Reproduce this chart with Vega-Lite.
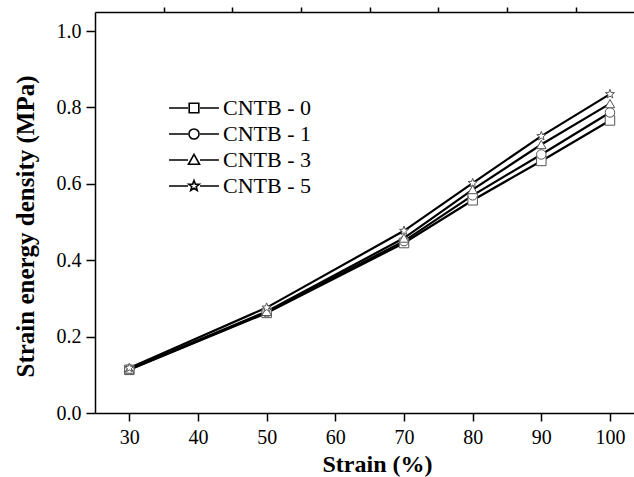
{
  "$schema": "https://vega.github.io/schema/vega-lite/v6.json",
  "width": 539,
  "height": 401,
  "autosize": {"type": "none"},
  "padding": {"left": 95, "top": 12, "right": 0, "bottom": 64},
  "background": "white",
  "config": {
    "view": {"stroke": null},
    "font": "Liberation Serif",
    "axis": {
      "grid": false,
      "domainColor": "black",
      "domainWidth": 1.5,
      "tickColor": "black",
      "tickWidth": 1.5,
      "labelColor": "black",
      "labelFont": "Liberation Serif",
      "labelFontSize": 20,
      "titleColor": "black",
      "titleFont": "Liberation Serif",
      "titleFontSize": 24,
      "titleFontWeight": "bold"
    }
  },
  "data": {
    "values": [
      {"series": "CNTB - 0", "strain": 30, "energy": 0.113},
      {"series": "CNTB - 0", "strain": 50, "energy": 0.262},
      {"series": "CNTB - 0", "strain": 70, "energy": 0.445},
      {"series": "CNTB - 0", "strain": 80, "energy": 0.557},
      {"series": "CNTB - 0", "strain": 90, "energy": 0.660},
      {"series": "CNTB - 0", "strain": 100, "energy": 0.766},
      {"series": "CNTB - 1", "strain": 30, "energy": 0.114},
      {"series": "CNTB - 1", "strain": 50, "energy": 0.264},
      {"series": "CNTB - 1", "strain": 70, "energy": 0.450},
      {"series": "CNTB - 1", "strain": 80, "energy": 0.570},
      {"series": "CNTB - 1", "strain": 90, "energy": 0.677},
      {"series": "CNTB - 1", "strain": 100, "energy": 0.787},
      {"series": "CNTB - 3", "strain": 30, "energy": 0.115},
      {"series": "CNTB - 3", "strain": 50, "energy": 0.266},
      {"series": "CNTB - 3", "strain": 70, "energy": 0.458},
      {"series": "CNTB - 3", "strain": 80, "energy": 0.585},
      {"series": "CNTB - 3", "strain": 90, "energy": 0.703},
      {"series": "CNTB - 3", "strain": 100, "energy": 0.810},
      {"series": "CNTB - 5", "strain": 30, "energy": 0.118},
      {"series": "CNTB - 5", "strain": 50, "energy": 0.276},
      {"series": "CNTB - 5", "strain": 70, "energy": 0.477},
      {"series": "CNTB - 5", "strain": 80, "energy": 0.602},
      {"series": "CNTB - 5", "strain": 90, "energy": 0.725},
      {"series": "CNTB - 5", "strain": 100, "energy": 0.835}
    ]
  },
  "layer": [
    {
      "mark": {"type": "line", "color": "black", "strokeWidth": 2.2},
      "encoding": {
        "x": {
          "field": "strain", "type": "quantitative",
          "scale": {"domain": [25, 103.5], "nice": false, "zero": false},
          "axis": {
            "values": [30, 40, 50, 60, 70, 80, 90, 100],
            "tickSize": 8,
            "labelPadding": 6,
            "title": "Strain (%)",
            "titlePadding": 5,
            "titleX": 282
          }
        },
        "y": {
          "field": "energy", "type": "quantitative",
          "scale": {"domain": [0, 1.05], "nice": false},
          "axis": {
            "values": [0, 0.2, 0.4, 0.6, 0.8, 1.0],
            "format": ".1f",
            "tickSize": 9,
            "labelPadding": 5,
            "title": "Strain energy density (MPa)",
            "titleFontSize": 25,
            "titlePadding": 18,
            "titleY": 214
          }
        },
        "detail": {"field": "series", "type": "nominal"}
      }
    },
    {
      "mark": {"type": "point", "filled": true, "fill": "white", "stroke": "#555555", "strokeWidth": 1, "size": 90, "opacity": 1},
      "encoding": {
        "x": {
          "field": "strain", "type": "quantitative",
          "axis": {"values": [35, 45, 55, 65, 75, 85, 95], "tickSize": 5, "labels": false, "domain": false, "title": null}
        },
        "y": {
          "field": "energy", "type": "quantitative",
          "axis": {"values": [0.1, 0.3, 0.5, 0.7, 0.9], "tickSize": 5, "labels": false, "domain": false, "title": null}
        },
        "shape": {
          "field": "series", "type": "nominal",
          "scale": {
            "domain": ["CNTB - 0", "CNTB - 1", "CNTB - 3", "CNTB - 5"],
            "range": ["square", "circle", "triangle-up", "M0,-1L0.247,-0.34L0.951,-0.309L0.399,0.13L0.588,0.809L0,0.42L-0.588,0.809L-0.399,0.13L-0.951,-0.309L-0.247,-0.34Z"]
          },
          "legend": null
        }
      }
    },
    {
      "mark": {"type": "point", "opacity": 0, "size": 576},
      "encoding": {
        "x": {
          "field": "strain", "type": "quantitative",
          "axis": {"orient": "top", "ticks": false, "labels": false, "domain": true, "title": null}
        },
        "y": {"field": "energy", "type": "quantitative", "axis": null},
        "shape": {
          "field": "series", "type": "nominal",
          "scale": {
            "domain": ["CNTB - 0", "CNTB - 1", "CNTB - 3", "CNTB - 5"],
            "range": [
              "M-2.08,0H-0.5M0.5,0H2.08M-0.4,-0.4H0.4V0.4H-0.4Z",
              "M-2.08,0H-0.5M0.5,0H2.08M-0.42,0A0.42,0.42,0,1,0,0.42,0A0.42,0.42,0,1,0,-0.42,0Z",
              "M-2.08,0H-0.5M0.5,0H2.08M0,-0.46L0.46,0.36H-0.46Z",
              "M-2.08,0H-0.5M0.5,0H2.08M0,-0.46L0.114,-0.156L0.437,-0.142L0.184,0.06L0.27,0.372L0,0.193L-0.27,0.372L-0.184,0.06L-0.437,-0.142L-0.114,-0.156Z"
            ]
          },
          "legend": {
            "orient": "none",
            "legendX": 86,
            "legendY": 83,
            "title": null,
            "symbolSize": 576,
            "symbolStrokeWidth": 1.6,
            "symbolStrokeColor": "black",
            "symbolFillColor": "transparent",
            "symbolOpacity": 1,
            "labelFontSize": 22,
            "labelFont": "Liberation Serif",
            "labelColor": "black",
            "labelOffset": 16,
            "rowPadding": 2,
            "padding": 0
          }
        }
      }
    }
  ],
  "resolve": {
    "axis": {"x": "independent", "y": "independent"},
    "scale": {"shape": "independent"}
  }
}
